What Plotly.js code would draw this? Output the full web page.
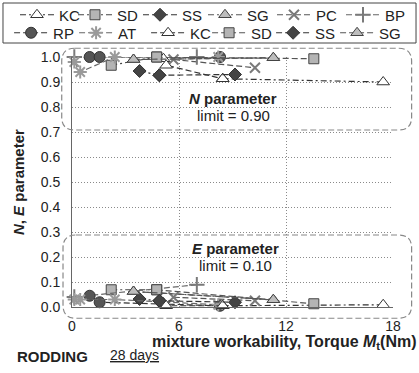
<!DOCTYPE html>
<html>
<head>
<meta charset="utf-8">
<script src="https://cdn.plot.ly/plotly-3.0.1.min.js"></script>
<style>html,body{margin:0;padding:0;background:#fff;}#chart{width:419px;height:373px;}</style>
</head>
<body>
<div id="chart"></div>
<script>
// ---- data (torque Mt in Nm, N and E parameters) ----
var seriesNames = ["KC", "SD", "SS", "SG", "PC", "BP", "RP", "AT", "KC", "SD", "SS", "SG"];
var xKC1 = [8.45, 17.45];      var nKC1 = [0.913, 0.900]; var eKC1 = [0.005, 0.009];
var xSD1 = [2.20, 4.75];       var nSD1 = [0.967, 1.000]; var eSD1 = [0.069, 0.069];
var xSS1 = [3.79, 4.90];       var nSS1 = [0.944, 0.927]; var eSS1 = [0.032, 0.025];
var xSG1 = [3.45, 11.29];      var nSG1 = [0.990, 0.997]; var eSG1 = [0.062, 0.029];
var xPC  = [5.69, 10.26];      var nPC  = [0.990, 0.957]; var ePC  = [0.039, 0.025];
var xBP  = [0.13, 7.00];       var nBP  = [1.000, 1.000]; var eBP  = [0.040, 0.089];
var xRP  = [0.99, 1.55, 8.30]; var nRP  = [1.000, 1.000, 1.000]; var eRP = [0.045, 0.019, 0.005];
var xAT  = [0.13, 0.46, 2.40, 8.20]; var nAT = [0.980, 0.940, 1.000, 1.000]; var eAT = [0.030, 0.030, 0.030, 0.009];
var xKC2 = [5.13, 5.28, 8.45]; var nKC2 = [0.993, 0.967, 0.913]; var eKC2 = [0.016, 0.005, 0.005];
var xSD2 = [4.75, 13.56];      var nSD2 = [1.000, 0.993]; var eSD2 = [0.069, 0.013];
var xSS2 = [4.90, 9.14];       var nSS2 = [0.927, 0.930]; var eSS2 = [0.025, 0.019];
var xSG2 = [3.45, 11.29];      var nSG2 = [0.990, 0.997]; var eSG2 = [0.062, 0.029];
var xTicks = [0, 6, 12, 18];

var FONT = "Liberation Sans, Arial, sans-serif";

var xs = [xKC1, xSD1, xSS1, xSG1, xPC, xBP, xRP, xAT, xKC2, xSD2, xSS2, xSG2];
var ns = [nKC1, nSD1, nSS1, nSG1, nPC, nBP, nRP, nAT, nKC2, nSD2, nSS2, nSG2];
var es = [eKC1, eSD1, eSS1, eSG1, ePC, eBP, eRP, eAT, eKC2, eSD2, eSS2, eSG2];

var markerStyles = [
  {symbol: "triangle-up", size: 11, color: "#ffffff", line: {color: "#333", width: 1}},
  {symbol: "square", size: 10, color: "#b4b4b4", line: {color: "#444", width: 1}},
  {symbol: "diamond", size: 10, color: "#444444", line: {color: "#333", width: 1}},
  {symbol: "triangle-up", size: 11, color: "#bdbdbd", line: {color: "#444", width: 1}},
  {symbol: "x-thin-open", size: 10, color: "#7a7a7a", line: {color: "#7a7a7a", width: 2}},
  {symbol: "cross-thin-open", size: 11, color: "#7a7a7a", line: {color: "#7a7a7a", width: 2}},
  {symbol: "circle", size: 11, color: "#555555", line: {color: "#333", width: 1}},
  {symbol: "asterisk-open", size: 11, color: "#9a9a9a", line: {color: "#9a9a9a", width: 2}},
  {symbol: "triangle-up", size: 11, color: "#ffffff", line: {color: "#333", width: 1}},
  {symbol: "square", size: 10, color: "#b4b4b4", line: {color: "#444", width: 1}},
  {symbol: "diamond", size: 10, color: "#444444", line: {color: "#333", width: 1}},
  {symbol: "triangle-up", size: 11, color: "#bdbdbd", line: {color: "#444", width: 1}}
];
var DASH = "6px,3px", DASHDOT = "6px,3px,2px,3px";
var dashes = [DASHDOT, DASHDOT, DASHDOT, DASHDOT, DASH, DASH, DASH, DASH, DASH, DASH, DASH, DASH];
var lineColors = ["#333", "#444", "#333", "#555", "#555", "#666", "#333", "#666", "#333", "#555", "#333", "#555"];
var legendIds = ["legend", "legend", "legend", "legend", "legend", "legend",
                 "legend2", "legend2", "legend2", "legend2", "legend2", "legend2"];
var legendWidths = [9, 16, 16, 20, 20, 21, 16, 23, 12, 15, 15, 21];

var traces = [];
for (var i = 0; i < seriesNames.length; i++) {
  var common = {
    type: "scatter", mode: "lines+markers", cliponaxis: false,
    name: seriesNames[i], legendgroup: "g" + i, legend: legendIds[i],
    legendwidth: legendWidths[i],
    line: {color: lineColors[i], width: 1.2, dash: dashes[i]},
    marker: markerStyles[i]
  };
  traces.push(Object.assign({}, common, {x: xs[i], y: ns[i], showlegend: true}));
  traces.push(Object.assign({}, common, {x: xs[i], y: es[i], showlegend: false}));
}

function rr(x0, x1, y0, y1, rx, ry) {
  return "M" + (x0 + rx) + "," + y1 + " L" + (x1 - rx) + "," + y1 +
    " Q" + x1 + "," + y1 + " " + x1 + "," + (y1 - ry) +
    " L" + x1 + "," + (y0 + ry) +
    " Q" + x1 + "," + y0 + " " + (x1 - rx) + "," + y0 +
    " L" + (x0 + rx) + "," + y0 +
    " Q" + x0 + "," + y0 + " " + x0 + "," + (y0 + ry) +
    " L" + x0 + "," + (y1 - ry) +
    " Q" + x0 + "," + y1 + " " + (x0 + rx) + "," + y1 + " Z";
}

function legendRow(x, y) {
  return {
    orientation: "h", x: x, y: y, xanchor: "left", yanchor: "middle",
    font: {family: FONT, size: 15, color: "#222"},
    bgcolor: "rgba(0,0,0,0)", borderwidth: 0,
    itemwidth: 34, entrywidthmode: "pixels",
    traceorder: "normal", itemclick: false, itemdoubleclick: false
  };
}

function ann(x, y, text, size, extra) {
  return Object.assign({xref: "paper", yref: "paper", x: x, y: y, xanchor: "center", yanchor: "middle",
    showarrow: false, text: text, font: {family: FONT, size: size, color: "#222"}}, extra || {});
}

var layout = {
  width: 419, height: 373,
  margin: {l: 72, r: 26, t: 57, b: 66, autoexpand: false},
  paper_bgcolor: "#fff", plot_bgcolor: "#fff",
  font: {family: FONT, size: 14, color: "#222"},
  showlegend: true,
  legend: legendRow(-0.1776, 1.168),
  legend2: legendRow(-0.196, 1.096),
  xaxis: {
    range: [0, 18], tickmode: "array", tickvals: xTicks, ticktext: xTicks.map(String),
    showgrid: true, gridcolor: "#8a8a8a", griddash: "1px,2px", gridwidth: 1,
    showline: true, linecolor: "#666", linewidth: 1, zeroline: false,
    ticks: "", ticklabelstandoff: 6,
    tickfont: {family: FONT, size: 14, color: "#222"}, fixedrange: true
  },
  yaxis: {
    range: [0, 1], dtick: 0.1, tick0: 0, tickformat: ".1f",
    showgrid: true, gridcolor: "#8a8a8a", griddash: "1px,2px", gridwidth: 1,
    showline: true, linecolor: "#666", linewidth: 1, zeroline: false,
    ticks: "", ticklabelstandoff: 8,
    tickfont: {family: FONT, size: 14, color: "#222"}, fixedrange: true
  },
  shapes: [
    {type: "rect", xref: "paper", yref: "paper", x0: -0.215, x1: 1.0717, y0: 1.056, y1: 1.216,
     line: {color: "#444", width: 1}, fillcolor: "rgba(0,0,0,0)"},
    {type: "path", xref: "paper", yref: "paper", path: rr(-0.032, 1.058, 0.708, 1.035, 0.0405, 0.052),
     line: {color: "#888", width: 1.2, dash: "6px,3px"}},
    {type: "path", xref: "paper", yref: "paper", path: rr(-0.028, 1.058, -0.045, 0.288, 0.0405, 0.052),
     line: {color: "#888", width: 1.2, dash: "6px,3px"}}
  ],
  annotations: [
    ann(0.502, 0.836, "<b><i>N</i> parameter</b>", 15),
    ann(0.502, 0.768, "limit = 0.90", 15),
    ann(0.508, 0.236, "<b><i>E</i> parameter</b>", 15),
    ann(0.508, 0.168, "limit = 0.10", 15),
    ann(1.081, -0.142, "<b>mixture workability, Torque <i>M</i><sub>t</sub>(Nm)</b>", 16, {xanchor: "right"}),
    ann(-0.168, 0.5, "<b><i>N</i>, <i>E</i> parameter</b>", 15, {textangle: -90}),
    ann(-0.178, -0.196, "<b>RODDING</b>", 15, {xanchor: "left"}),
    ann(0.112, -0.192, "<u>28 days</u>", 14, {xanchor: "left"})
  ]
};

Plotly.newPlot("chart", traces, layout, {displayModeBar: false, staticPlot: true});
</script>
</body>
</html>
